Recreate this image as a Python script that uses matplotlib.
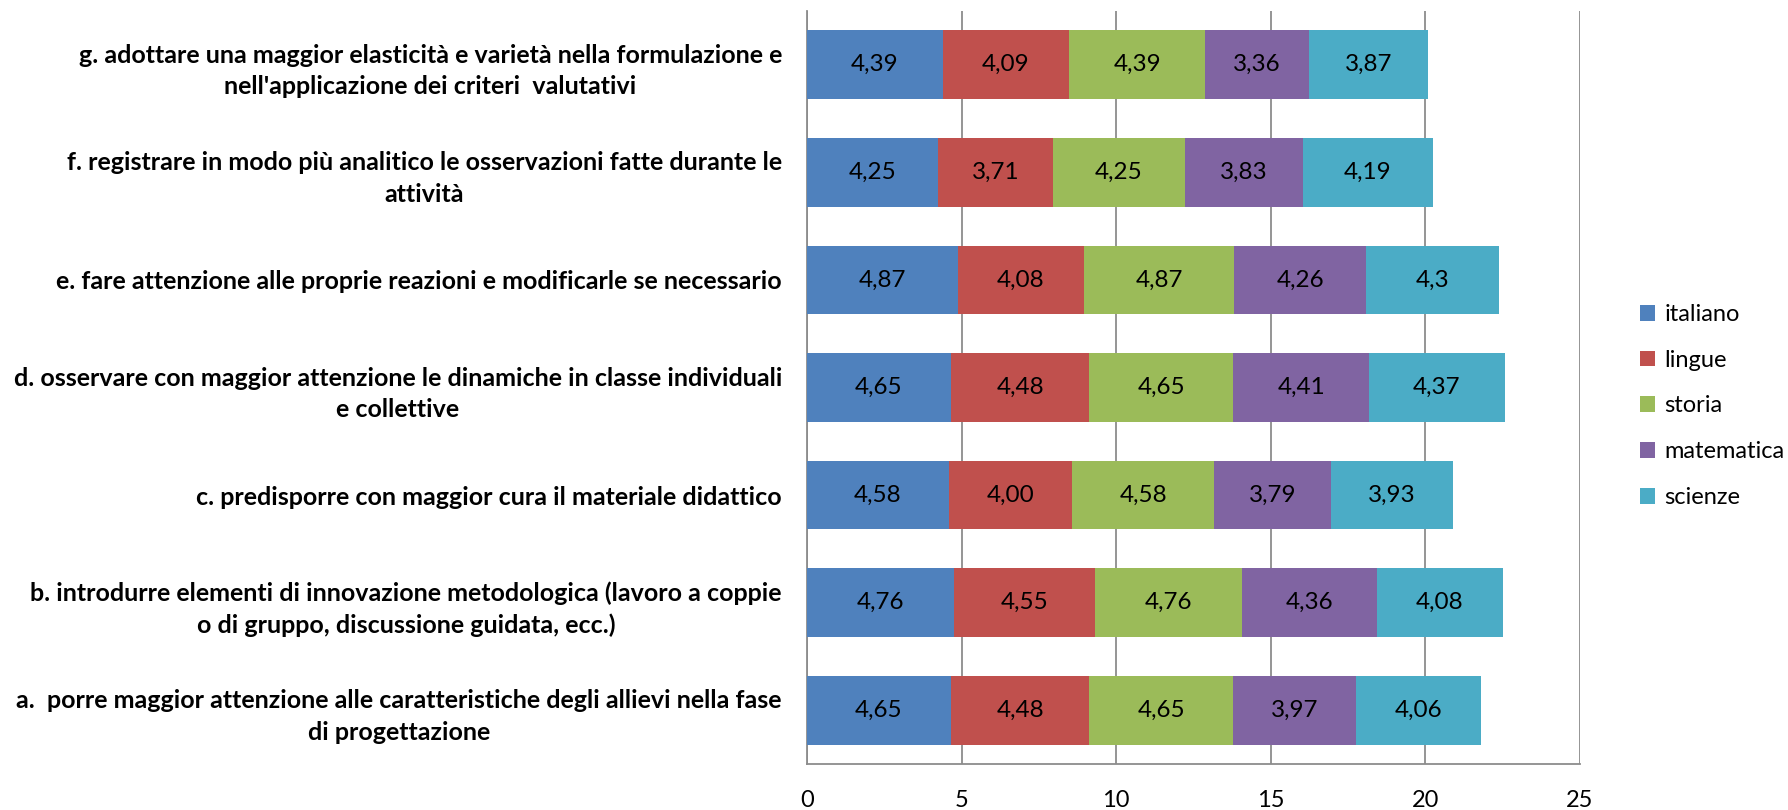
import matplotlib
matplotlib.use("Agg")
import matplotlib.pyplot as plt
from matplotlib.patches import Patch

categories = [
    "a.  porre maggior attenzione alle caratteristiche degli allievi nella fase\ndi progettazione",
    "b. introdurre elementi di innovazione metodologica (lavoro a coppie\no di gruppo, discussione guidata, ecc.)",
    "c. predisporre con maggior cura il materiale didattico",
    "d. osservare con maggior attenzione le dinamiche in classe individuali\ne collettive",
    "e. fare attenzione alle proprie reazioni e modificarle se necessario",
    "f. registrare in modo più analitico le osservazioni fatte durante le\nattività",
    "g. adottare una maggior elasticità e varietà nella formulazione e\nnell'applicazione dei criteri  valutativi",
]
series_names = ["italiano", "lingue", "storia", "matematica", "scienze"]
italiano = ["4,65", "4,76", "4,58", "4,65", "4,87", "4,25", "4,39"]
lingue = ["4,48", "4,55", "4,00", "4,48", "4,08", "3,71", "4,09"]
storia = ["4,65", "4,76", "4,58", "4,65", "4,87", "4,25", "4,39"]
matematica = ["3,97", "4,36", "3,79", "4,41", "4,26", "3,83", "3,36"]
scienze = ["4,06", "4,08", "3,93", "4,37", "4,3", "4,19", "3,87"]
xticks = [0, 5, 10, 15, 20, 25]

colors = ["#4F81BD", "#C0504D", "#9BBB59", "#8064A2", "#4BACC6"]
all_series = [italiano, lingue, storia, matematica, scienze]

plt.rcParams['font.family'] = ['Lato', 'DejaVu Sans']

fig = plt.figure(figsize=(17.88, 8.10), dpi=100)
ax = fig.add_axes([807/1788, 1-764/810, (1580-807)/1788, (764-11)/810])

ypos = list(range(len(categories)))
left = [0.0]*len(categories)
for name, ser, col in zip(series_names, all_series, colors):
    vals = [float(s.replace(",", ".")) for s in ser]
    bars = ax.barh(ypos, vals, left=left, height=0.64, color=col, label=name, zorder=3)
    for b, s in zip(bars, ser):
        ax.text(b.get_x()+b.get_width()/2, b.get_y()+b.get_height()/2, s,
                ha="center", va="center", fontsize=17.5, color="black", zorder=4)
    left = [l+v for l, v in zip(left, vals)]

ax.set_xlim(0, 25)
ax.set_ylim(-0.5, len(categories)-0.5)
ax.set_xticks(xticks)
ax.set_xticklabels([str(t) for t in xticks], fontsize=17)
ax.set_yticks(ypos)
ax.set_yticklabels(categories, fontsize=18, fontweight="bold", multialignment="center",
                   linespacing=1.45)
ax.tick_params(axis="x", length=0, pad=19)
ax.tick_params(axis="y", length=0, pad=18)
ax.grid(axis="x", color="#8c8c8c", linewidth=1.3, zorder=0)
for s in ["top", "right"]:
    ax.spines[s].set_visible(False)
for s in ["left", "bottom"]:
    ax.spines[s].set_color("#8c8c8c")
    ax.spines[s].set_linewidth(1.3)

handles = [Patch(facecolor=c, edgecolor="none") for c in colors]
fig.legend(handles, series_names, loc="center left", bbox_to_anchor=(1628/1788, 1-406/810),
           frameon=False, fontsize=17, handlelength=0.65, handleheight=0.65,
           handletextpad=0.4, labelspacing=1.05, borderpad=0)

fig.savefig("out.png", dpi=100)
